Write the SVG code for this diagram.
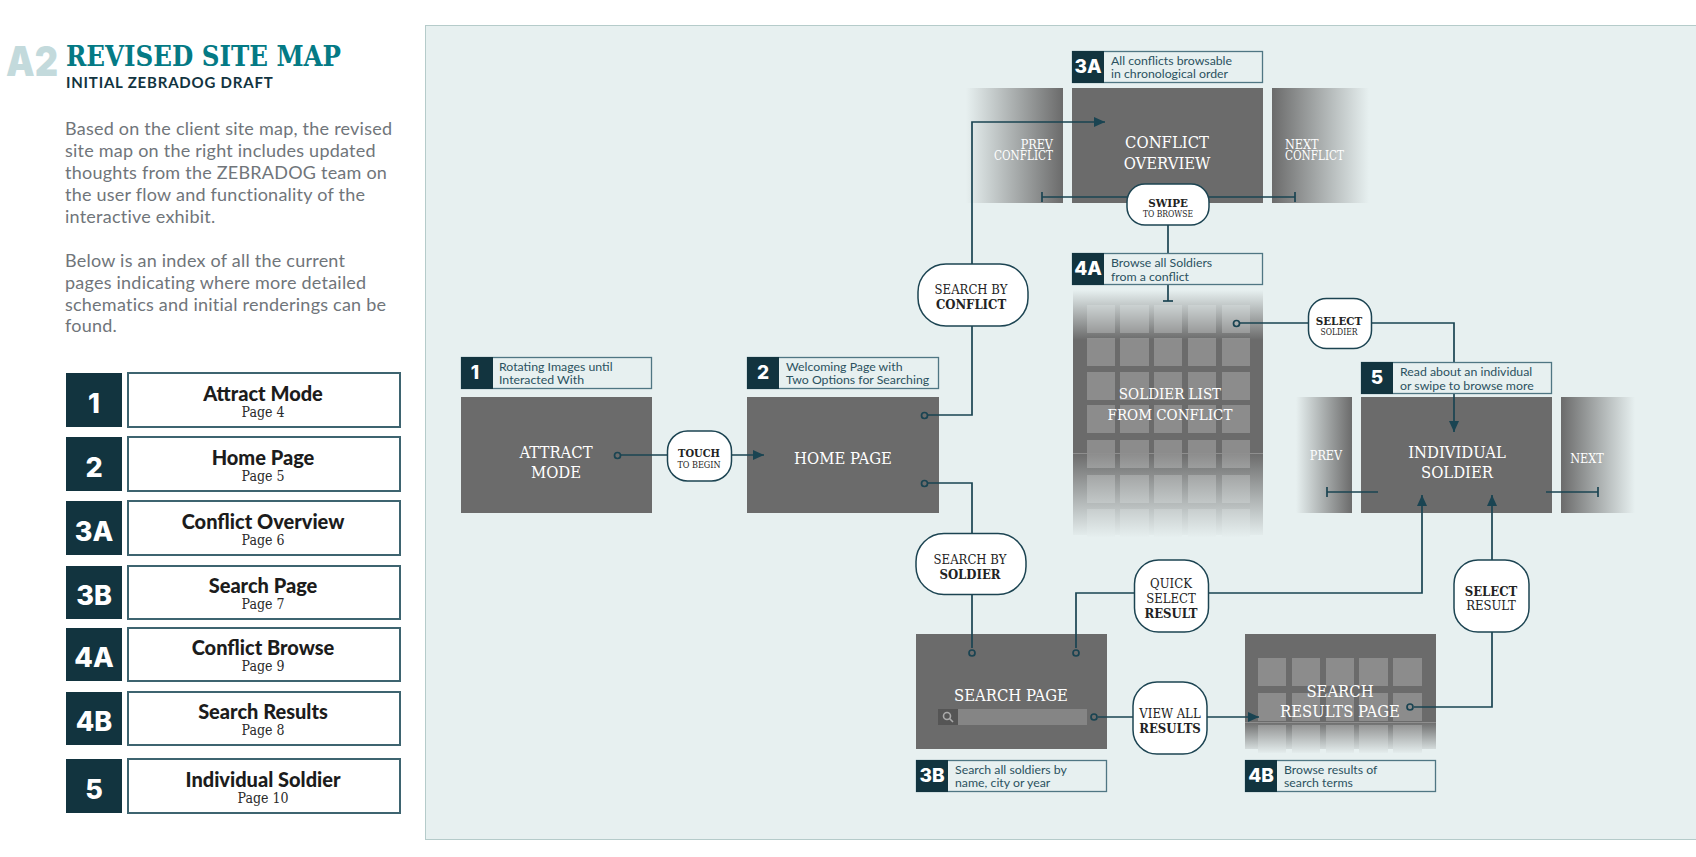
<svg xmlns="http://www.w3.org/2000/svg" width="1696" height="857" viewBox="0 0 1696 857">
<style>
text{font-family:"DejaVu Serif Condensed","DejaVu Serif",serif}
.s{font-family:"Lato","Liberation Sans",sans-serif}
.num{font-family:"Inter","Liberation Sans",sans-serif;font-weight:800;fill:#fff;text-anchor:middle}
.body{font-family:"Lato","Liberation Sans",sans-serif;font-size:18px;fill:#70757a;letter-spacing:.23px}
.scr{fill:#6b6b6b}
.t{fill:#fff;font-size:16.5px;text-anchor:middle}
.t2{fill:#fff;font-size:12.5px}
.cap{font-family:"Lato","Liberation Sans",sans-serif;font-size:12.3px;fill:#2b5260}
.capbox{fill:none;stroke:#4f7683;stroke-width:1.3}
.dark{fill:#12343f}
.pill{fill:#fff;stroke:#1c4452;stroke-width:1.5}
.p{font-size:13px;fill:#222;text-anchor:middle}
.b{font-weight:700}
.cell{fill:#8c8c8c}
.line{fill:none;stroke:#1a4452;stroke-width:1.7}
.dot{fill:none;stroke:#1a4452;stroke-width:1.7}
.idx{fill:#fff;stroke:#3e6470;stroke-width:2}
.it{font-family:"Lato","Liberation Sans",sans-serif;font-weight:900;font-size:20px;fill:#1c1c1c;text-anchor:middle}
.ip{font-size:14px;fill:#2a2a2a;text-anchor:middle}
</style>
<defs>
<marker id="arr" markerUnits="userSpaceOnUse" markerWidth="12" markerHeight="10" refX="11" refY="5" orient="auto"><path d="M0 0L11 5L0 10z" fill="#1a4452"/></marker>
<marker id="tick" markerUnits="userSpaceOnUse" markerWidth="3" markerHeight="10" refX="1.5" refY="5" orient="auto"><path d="M1.5 0V10" stroke="#1a4452" stroke-width="1.7"/></marker>
<linearGradient id="fadeL" x1="0" x2="1" y1="0" y2="0"><stop offset="0" stop-color="#6b6b6b" stop-opacity="0"/><stop offset="1" stop-color="#6b6b6b"/></linearGradient>
<linearGradient id="fadeR" x1="0" x2="1" y1="0" y2="0"><stop offset="0" stop-color="#6b6b6b"/><stop offset="1" stop-color="#6b6b6b" stop-opacity="0"/></linearGradient>
<linearGradient id="ovTop" x1="0" x2="0" y1="0" y2="1"><stop offset="0" stop-color="#e7f0f0"/><stop offset="1" stop-color="#e7f0f0" stop-opacity="0"/></linearGradient>
<linearGradient id="ovBot" x1="0" x2="0" y1="0" y2="1"><stop offset="0" stop-color="#e7f0f0" stop-opacity="0"/><stop offset="1" stop-color="#e7f0f0"/></linearGradient>
</defs>

<rect id="panel" x="425.500" y="25.500" width="1271" height="814" fill="#e7f0f0" stroke="#b5cbca"/>

<g id="header">
<text x="6" y="76" font-size="41" font-weight="900" fill="#c3dadc" textLength="52" lengthAdjust="spacingAndGlyphs" style="font-family:Inter,sans-serif">A2</text>
<text x="66" y="66" font-size="28" font-weight="700" fill="#047a85" textLength="275" lengthAdjust="spacingAndGlyphs">REVISED SITE MAP</text>
<text class="s" x="66" y="88" font-size="15" font-weight="700" fill="#12343f" letter-spacing=".8">INITIAL ZEBRADOG DRAFT</text>
<text class="body" x="65" y="135">Based on the client site map, the revised</text>
<text class="body" x="65" y="157">site map on the right includes updated</text>
<text class="body" x="65" y="179">thoughts from the ZEBRADOG team on</text>
<text class="body" x="65" y="201">the user flow and functionality of the</text>
<text class="body" x="65" y="223">interactive exhibit.</text>
<text class="body" x="65" y="267">Below is an index of all the current</text>
<text class="body" x="65" y="289">pages indicating where more detailed</text>
<text class="body" x="65" y="311">schematics and initial renderings can be</text>
<text class="body" x="65" y="332">found.</text>
</g>

<g id="index">
<g id="idx-1"><rect class="dark" x="66" y="373" width="56" height="54"/><rect class="idx" x="128" y="373" width="272" height="54"/><text class="num" x="94" y="413" font-size="27">1</text><text class="it" x="263" y="400.500">Attract Mode</text><text class="ip" x="263" y="417">Page 4</text></g>
<g id="idx-2"><rect class="dark" x="66" y="437" width="56" height="54"/><rect class="idx" x="128" y="437" width="272" height="54"/><text class="num" x="94" y="477" font-size="27">2</text><text class="it" x="263" y="464.500">Home Page</text><text class="ip" x="263" y="481">Page 5</text></g>
<g id="idx-3a"><rect class="dark" x="66" y="501" width="56" height="54"/><rect class="idx" x="128" y="501" width="272" height="54"/><text class="num" x="94" y="541" font-size="27">3A</text><text class="it" x="263" y="528.500">Conflict Overview</text><text class="ip" x="263" y="545">Page 6</text></g>
<g id="idx-3b"><rect class="dark" x="66" y="566" width="56" height="53"/><rect class="idx" x="128" y="566" width="272" height="53"/><text class="num" x="94" y="605" font-size="27">3B</text><text class="it" x="263" y="592.500">Search Page</text><text class="ip" x="263" y="609">Page 7</text></g>
<g id="idx-4a"><rect class="dark" x="66" y="628" width="56" height="53"/><rect class="idx" x="128" y="628" width="272" height="53"/><text class="num" x="94" y="667" font-size="27">4A</text><text class="it" x="263" y="654.500">Conflict Browse</text><text class="ip" x="263" y="671">Page 9</text></g>
<g id="idx-4b"><rect class="dark" x="66" y="692" width="56" height="53"/><rect class="idx" x="128" y="692" width="272" height="53"/><text class="num" x="94" y="731" font-size="27">4B</text><text class="it" x="263" y="718.500">Search Results</text><text class="ip" x="263" y="735">Page 8</text></g>
<g id="idx-5"><rect class="dark" x="66" y="759" width="56" height="54"/><rect class="idx" x="128" y="759" width="272" height="54"/><text class="num" x="94" y="799" font-size="27">5</text><text class="it" x="263" y="786.500">Individual Soldier</text><text class="ip" x="263" y="803">Page 10</text></g>
</g>

<g id="node-attract"><rect class="scr" x="461" y="397" width="191" height="116"/><text class="t" x="556" y="458">ATTRACT</text><text class="t" x="556" y="478">MODE</text></g>
<g id="node-home"><rect class="scr" x="747" y="397" width="192" height="116"/><text class="t" x="843" y="464">HOME PAGE</text></g>
<g id="node-overview"><rect class="scr" x="1072" y="88" width="191" height="115"/><text class="t" x="1167" y="148">CONFLICT</text><text class="t" x="1167" y="169">OVERVIEW</text></g>
<g id="node-prev-conflict"><rect x="966" y="88" width="97" height="115" fill="url(#fadeL)"/><text class="t2" x="1053" y="148.500" text-anchor="end">PREV</text><text class="t2" x="1053" y="159.500" text-anchor="end" textLength="59" lengthAdjust="spacingAndGlyphs">CONFLICT</text></g>
<g id="node-next-conflict"><rect x="1272" y="88" width="97" height="115" fill="url(#fadeR)"/><text class="t2" x="1285" y="148.500">NEXT</text><text class="t2" x="1285" y="159.500" textLength="59" lengthAdjust="spacingAndGlyphs">CONFLICT</text></g>
<g id="node-soldier-list">
<rect class="scr" x="1073" y="290" width="190" height="245"/>
<g class="cell">
<rect x="1087" y="305" width="28" height="28"/><rect x="1120" y="305" width="29" height="28"/><rect x="1154" y="305" width="28" height="28"/><rect x="1188" y="305" width="28" height="28"/><rect x="1222" y="305" width="28" height="28"/>
<rect x="1087" y="338" width="28" height="28"/><rect x="1120" y="338" width="29" height="28"/><rect x="1154" y="338" width="28" height="28"/><rect x="1188" y="338" width="28" height="28"/><rect x="1222" y="338" width="28" height="28"/>
<rect x="1087" y="372" width="28" height="28"/><rect x="1120" y="372" width="29" height="28"/><rect x="1154" y="372" width="28" height="28"/><rect x="1188" y="372" width="28" height="28"/><rect x="1222" y="372" width="28" height="28"/>
<rect x="1087" y="405" width="28" height="28"/><rect x="1120" y="405" width="29" height="28"/><rect x="1154" y="405" width="28" height="28"/><rect x="1188" y="405" width="28" height="28"/><rect x="1222" y="405" width="28" height="28"/>
<rect x="1087" y="440" width="28" height="28"/><rect x="1120" y="440" width="29" height="28"/><rect x="1154" y="440" width="28" height="28"/><rect x="1188" y="440" width="28" height="28"/><rect x="1222" y="440" width="28" height="28"/>
<rect x="1087" y="475" width="28" height="28"/><rect x="1120" y="475" width="29" height="28"/><rect x="1154" y="475" width="28" height="28"/><rect x="1188" y="475" width="28" height="28"/><rect x="1222" y="475" width="28" height="28"/>
<rect x="1087" y="509" width="28" height="28"/><rect x="1120" y="509" width="29" height="28"/><rect x="1154" y="509" width="28" height="28"/><rect x="1188" y="509" width="28" height="28"/><rect x="1222" y="509" width="28" height="28"/>
</g>
<rect x="1073" y="290" width="190" height="50" fill="url(#ovTop)"/>
<rect x="1073" y="453" width="190" height="85" fill="url(#ovBot)"/>
<path d="M1073 453.500H1263" stroke="#8f8f8f" stroke-width="1"/>
<text class="t" x="1170" y="399" style="font-size:15px">SOLDIER LIST</text><text class="t" x="1170" y="420" style="font-size:15px">FROM CONFLICT</text></g>
<g id="node-individual"><rect class="scr" x="1361" y="397" width="191" height="116"/><text class="t" x="1457" y="458">INDIVIDUAL</text><text class="t" x="1457" y="478">SOLDIER</text></g>
<g id="node-prev"><rect x="1296" y="397" width="56" height="116" fill="url(#fadeL)"/><text class="t2" x="1326" y="460" text-anchor="middle">PREV</text></g>
<g id="node-next"><rect x="1561" y="397" width="74" height="116" fill="url(#fadeR)"/><text class="t2" x="1587" y="463" text-anchor="middle">NEXT</text></g>
<g id="node-search"><rect class="scr" x="916" y="634" width="191" height="115"/><text class="t" x="1011" y="701">SEARCH PAGE</text><rect x="938" y="709" width="20" height="16" fill="#555"/><circle cx="947" cy="716" r="3.500" fill="none" stroke="#aaa" stroke-width="1.600"/><path d="M949.500 718.500L953 722" stroke="#aaa" stroke-width="1.600"/><rect x="958" y="709" width="129" height="16" fill="#858585"/></g>
<g id="node-results">
<rect class="scr" x="1245" y="634" width="191" height="115"/>
<g class="cell">
<rect x="1258" y="658" width="28" height="28"/><rect x="1292" y="658" width="28" height="28"/><rect x="1326" y="658" width="28" height="28"/><rect x="1359" y="658" width="29" height="28"/><rect x="1393" y="658" width="29" height="28"/>
<rect x="1258" y="693" width="28" height="28"/><rect x="1292" y="693" width="28" height="28"/><rect x="1326" y="693" width="28" height="28"/><rect x="1359" y="693" width="29" height="28"/><rect x="1393" y="693" width="29" height="28"/>
<rect x="1258" y="725" width="28" height="28"/><rect x="1292" y="725" width="28" height="28"/><rect x="1326" y="725" width="28" height="28"/><rect x="1359" y="725" width="29" height="28"/><rect x="1393" y="725" width="29" height="28"/>
</g>
<rect x="1245" y="722" width="191" height="32" fill="url(#ovBot)"/>
<path d="M1245 722.500H1436" stroke="#8f8f8f" stroke-width="1"/>
<text class="t" x="1340" y="697">SEARCH</text><text class="t" x="1340" y="717">RESULTS PAGE</text></g>

<g id="connectors">
<path class="line" marker-end="url(#arr)" d="M621 455H764"/>
<path class="line" marker-end="url(#arr)" d="M928 415H972V122H1105"/>
<path class="line" d="M928 483H972V648"/>
<path class="line" marker-start="url(#tick)" marker-end="url(#tick)" d="M1042 197H1295"/>
<path class="line" marker-end="url(#tick)" d="M1168 203V301"/>
<path class="line" marker-end="url(#arr)" d="M1240 323H1454V432"/>
<path class="line" marker-end="url(#arr)" d="M1076 648V593H1422V495"/>
<path class="line" marker-end="url(#arr)" d="M1098 717H1259"/>
<path class="line" marker-end="url(#arr)" d="M1414 707H1492V495"/>
<path class="line" marker-end="url(#tick)" d="M1378 492H1327"/>
<path class="line" marker-end="url(#tick)" d="M1546 492H1598"/>
<circle class="dot" cx="617.500" cy="455.500" r="3"/><circle class="dot" cx="924.500" cy="415.500" r="3"/><circle class="dot" cx="924.500" cy="483.500" r="3"/><circle class="dot" cx="1236.500" cy="323.500" r="3"/><circle class="dot" cx="972" cy="653" r="3"/><circle class="dot" cx="1076" cy="653" r="3"/><circle class="dot" cx="1094" cy="717" r="3"/><circle class="dot" cx="1410" cy="707" r="3"/>
</g>

<g id="cap-1"><rect class="capbox" x="461.500" y="357.500" width="190" height="31"/><rect class="dark" x="461" y="357" width="32" height="32"/><text class="num" x="475" y="379" font-size="19">1</text><text class="cap" x="499" y="370.500">Rotating Images until</text><text class="cap" x="499" y="383.500">Interacted With</text></g>
<g id="cap-2"><rect class="capbox" x="747.500" y="357.500" width="191" height="31"/><rect class="dark" x="747" y="357" width="32" height="32"/><text class="num" x="763" y="379" font-size="19">2</text><text class="cap" x="786" y="370.500">Welcoming Page with</text><text class="cap" x="786" y="383.500">Two Options for Searching</text></g>
<g id="cap-3a"><rect class="capbox" x="1072.500" y="51.500" width="190" height="31"/><rect class="dark" x="1072" y="51" width="32" height="32"/><text class="num" x="1088" y="73" font-size="19">3A</text><text class="cap" x="1111" y="64.500">All conflicts browsable</text><text class="cap" x="1111" y="77.500">in chronological order</text></g>
<g id="cap-4a"><rect class="capbox" x="1072.500" y="253.500" width="190" height="31" style="fill:#e7f0f0"/><rect class="dark" x="1072" y="253" width="32" height="32"/><text class="num" x="1088" y="275" font-size="19">4A</text><text class="cap" x="1111" y="266.500">Browse all Soldiers</text><text class="cap" x="1111" y="280.500">from a conflict</text></g>
<g id="cap-5"><rect class="capbox" x="1361.500" y="362.500" width="190" height="31" style="fill:#e7f0f0"/><rect class="dark" x="1361" y="362" width="32" height="32"/><text class="num" x="1377" y="384" font-size="19">5</text><text class="cap" x="1400" y="375.500">Read about an individual</text><text class="cap" x="1400" y="389.500">or swipe to browse more</text></g>
<g id="cap-3b"><rect class="capbox" x="916.500" y="760.500" width="190" height="31"/><rect class="dark" x="916" y="760" width="32" height="32"/><text class="num" x="932" y="782" font-size="19">3B</text><text class="cap" x="955" y="773.500">Search all soldiers by</text><text class="cap" x="955" y="786.500">name, city or year</text></g>
<g id="cap-4b"><rect class="capbox" x="1245.500" y="760.500" width="190" height="31"/><rect class="dark" x="1245" y="760" width="32" height="32"/><text class="num" x="1261" y="782" font-size="19">4B</text><text class="cap" x="1284" y="773.500">Browse results of</text><text class="cap" x="1284" y="786.500">search terms</text></g>

<g id="pill-touch"><rect class="pill" x="667.500" y="431" width="64" height="50" rx="20"/><text class="p b" x="699" y="457" style="font-size:11px">TOUCH</text><text class="p" x="699" y="468" style="font-size:9px">TO BEGIN</text></g>
<g id="pill-conflict"><rect class="pill" x="918" y="264" width="110" height="62" rx="28"/><text class="p" x="971" y="294">SEARCH BY</text><text class="p b" x="971" y="309">CONFLICT</text></g>
<g id="pill-swipe"><rect class="pill" x="1127" y="184" width="82" height="41" rx="18"/><text class="p b" x="1168" y="207" style="font-size:11.5px">SWIPE</text><text class="p" x="1168" y="217" style="font-size:8.5px">TO BROWSE</text></g>
<g id="pill-select-soldier"><rect class="pill" x="1308.500" y="298.500" width="63" height="50" rx="18"/><text class="p b" x="1339" y="325" style="font-size:11.5px">SELECT</text><text class="p" x="1339" y="335" style="font-size:8.5px">SOLDIER</text></g>
<g id="pill-soldier"><rect class="pill" x="916" y="533.500" width="110" height="61" rx="28"/><text class="p" x="970" y="564">SEARCH BY</text><text class="p b" x="970" y="579">SOLDIER</text></g>
<g id="pill-quick"><rect class="pill" x="1134.500" y="560" width="74" height="72" rx="24"/><text class="p" x="1171" y="588">QUICK</text><text class="p" x="1171" y="603">SELECT</text><text class="p b" x="1171" y="618">RESULT</text></g>
<g id="pill-viewall"><rect class="pill" x="1133" y="682" width="74" height="72" rx="24"/><text class="p" x="1170" y="718">VIEW ALL</text><text class="p b" x="1170" y="733">RESULTS</text></g>
<g id="pill-select-result"><rect class="pill" x="1454" y="560" width="75" height="72" rx="24"/><text class="p b" x="1491" y="596">SELECT</text><text class="p" x="1491" y="610">RESULT</text></g>
</svg>
